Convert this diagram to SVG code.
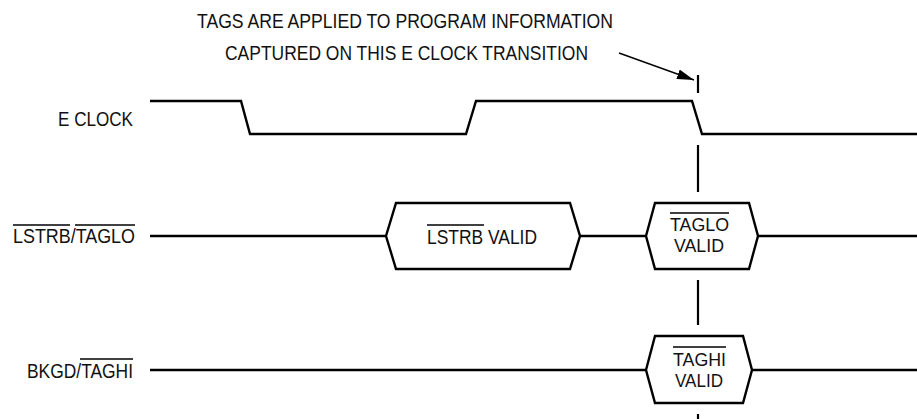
<svg xmlns="http://www.w3.org/2000/svg" width="917" height="419" viewBox="0 0 917 419">
<style>
  .t { font-family: "Liberation Sans", Arial, sans-serif; font-size: 21px; fill: #111; }
  .s { font-size: 18px; }
  .w { fill: none; stroke: #000; stroke-width: 2.4; stroke-linejoin: miter; }
  .ov { stroke: #000; stroke-width: 1.6; }
  .d { stroke: #000; stroke-width: 2.2; }
</style>
<defs>
  <marker id="ah" viewBox="0 0 17 10" refX="17" refY="5" markerWidth="17" markerHeight="10" markerUnits="userSpaceOnUse" orient="auto">
    <path d="M0,0 L17,5 L0,10 z" fill="#000"/>
  </marker>
</defs>

<g id="note">
  <text class="t" x="197" y="28" textLength="416" lengthAdjust="spacingAndGlyphs">TAGS ARE APPLIED TO PROGRAM INFORMATION</text>
  <text class="t" x="225" y="60" textLength="363" lengthAdjust="spacingAndGlyphs">CAPTURED ON THIS E CLOCK TRANSITION</text>
</g>

<g id="labels">
  <text class="t" x="58" y="126" textLength="75" lengthAdjust="spacingAndGlyphs">E CLOCK</text>
  <text class="t" x="13" y="243" textLength="122" lengthAdjust="spacingAndGlyphs">LSTRB/TAGLO</text>
  <line class="ov" x1="13" y1="225" x2="70" y2="225"/>
  <line class="ov" x1="75" y1="225" x2="135" y2="225"/>
  <text class="t" x="27" y="378" textLength="106" lengthAdjust="spacingAndGlyphs">BKGD/TAGHI</text>
  <line class="ov" x1="80" y1="359" x2="133" y2="359"/>
</g>

<g id="eclock">
  <polyline class="w" points="150,101 241,101 250,134 466,134 476,101 692,101 702,134 917,134"/>
</g>

<g id="lstrb-taglo">
  <polyline class="w" points="150,236 386,236"/>
  <polygon class="w" points="386,236 396,203 570,203 580,236 570,269 396,269"/>
  <polyline class="w" points="580,236 646,236"/>
  <polygon class="w" points="646,236 655,203 749,203 758,236 749,269 655,269"/>
  <polyline class="w" points="758,236 917,236"/>
  <text class="t" x="427" y="244" textLength="110" lengthAdjust="spacingAndGlyphs">LSTRB VALID</text>
  <line class="ov" x1="427" y1="225" x2="484" y2="225"/>
  <text class="t s" x="670" y="231" textLength="59" lengthAdjust="spacingAndGlyphs">TAGLO</text>
  <line class="ov" x1="670" y1="213" x2="729" y2="213"/>
  <text class="t s" x="674" y="252" textLength="50" lengthAdjust="spacingAndGlyphs">VALID</text>
</g>

<g id="bkgd-taghi">
  <polyline class="w" points="150,370 646,370"/>
  <polygon class="w" points="646,370 655,336 743,336 752,370 743,403 655,403"/>
  <polyline class="w" points="752,370 917,370"/>
  <text class="t s" x="673" y="366" textLength="53" lengthAdjust="spacingAndGlyphs">TAGHI</text>
  <line class="ov" x1="673" y1="347" x2="726" y2="347"/>
  <text class="t s" x="675" y="387" textLength="48" lengthAdjust="spacingAndGlyphs">VALID</text>
</g>

<g id="connectors">
  <line class="d" x1="698" y1="75" x2="698" y2="93"/>
  <line class="d" x1="698" y1="145" x2="698" y2="192"/>
  <line class="d" x1="698" y1="280" x2="698" y2="325"/>
  <line class="d" x1="698" y1="414" x2="698" y2="419"/>
  <line x1="619" y1="53" x2="694" y2="80" stroke="#000" stroke-width="1.4" marker-end="url(#ah)"/>
</g>
</svg>
